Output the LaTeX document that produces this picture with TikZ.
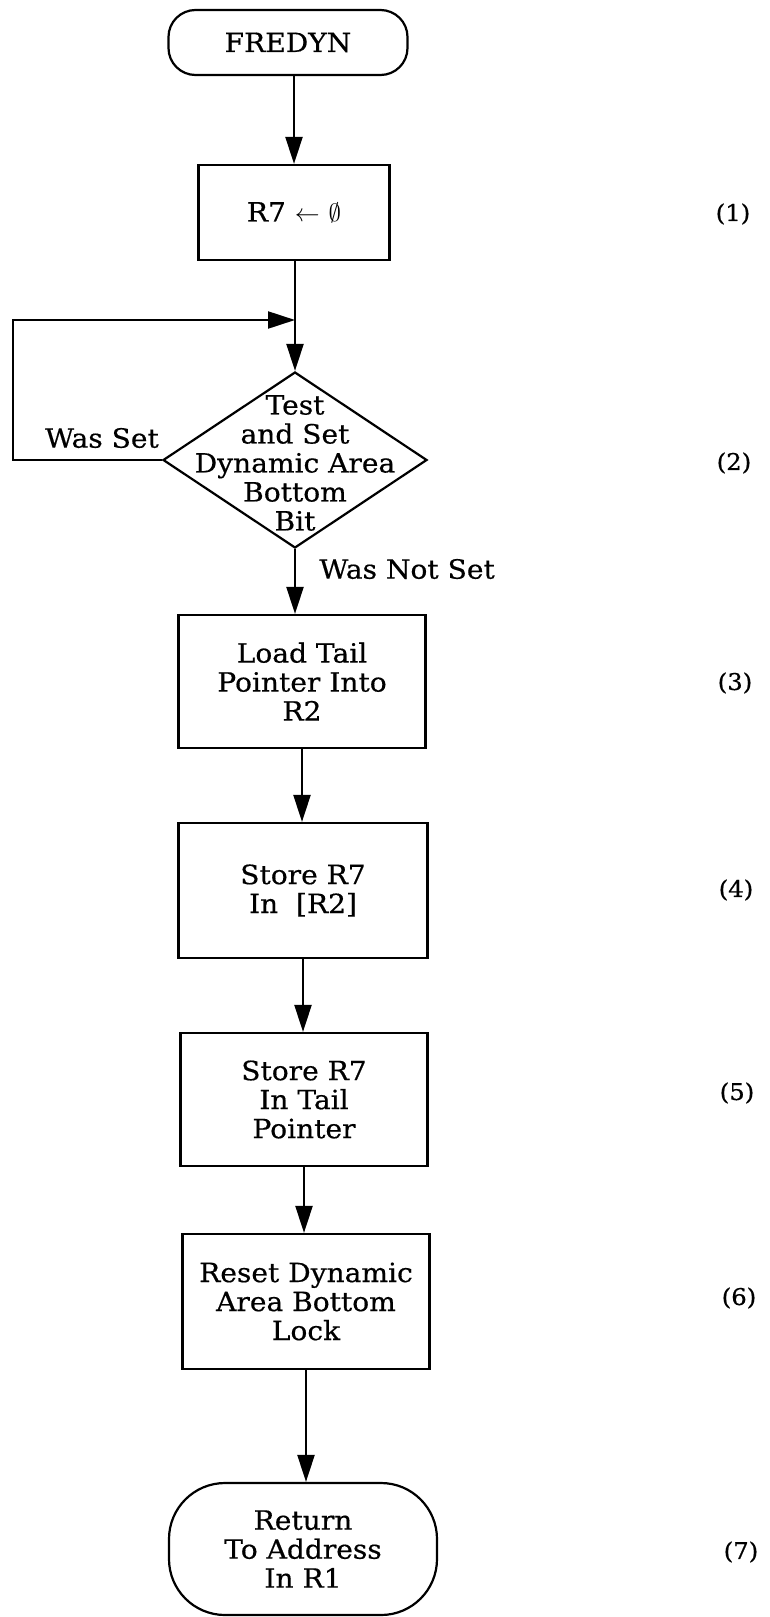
\documentclass[tikz,border=0pt]{standalone}
\usepackage{fontspec}
\setmainfont{DejaVu Serif}[FakeStretch=1.06, FakeBold=0.5]
\usetikzlibrary{arrows.meta,shapes.geometric}

\begin{document}
\begin{tikzpicture}[x=1pt,y=-1pt,
  line width=2.2pt,
  txt/.style={font=\fontsize{26.5}{29}\selectfont, align=center},
  stepno/.style={font=\fontsize{23}{26}\selectfont},
  procbox/.style={txt, draw, rectangle, inner sep=0pt},
  termbox/.style={txt, draw, rectangle, inner sep=0pt},
  flow/.style={-{Triangle[length=27pt,width=17pt]}},
]
\useasboundingbox (0,0) rectangle (770,1617);
\fill[white] (0,0) rectangle (770,1617);

% entry and first step
\node[termbox, rounded corners=27pt, minimum width=239pt, minimum height=65pt] (fredyn) at (288,42.5) {FREDYN};
\node[procbox, minimum width=191pt, minimum height=95pt] (r7) at (294,212.5) {R7 $\leftarrow$ $\emptyset$};

% test-and-set decision
\node[draw, diamond, inner sep=0pt, minimum width=264pt, minimum height=176pt] (test) at (295,460) {};
\node[txt] (testtext) at (295,463) {Test\\and Set\\Dynamic Area\\Bottom\\Bit};

% remaining steps
\node[procbox, minimum width=247pt, minimum height=133pt] (load) at (302,681.5) {Load Tail\\Pointer Into\\R2};
\node[procbox, minimum width=249pt, minimum height=135pt] (storea) at (303,890.5) {Store R7\\In~~[R2]};
\node[procbox, minimum width=247pt, minimum height=133pt] (storeb) at (304,1099.5) {Store R7\\In Tail\\Pointer};
\node[procbox, minimum width=247pt, minimum height=135pt] (reset) at (306,1301.5) {Reset Dynamic\\Area Bottom\\Lock};
\node[termbox, rounded corners=56pt, minimum width=268pt, minimum height=132pt] (ret) at (303,1549) {Return\\To Address\\In R1};

% branch labels
\node[txt] (wasset) at (102,438) {Was Set};
\node[txt, anchor=west] (wasnotset) at (315,569) {Was Not Set};

% step numbers
\node[stepno] (n1) at (733,214) {(1)};
\node[stepno] (n2) at (734,463) {(2)};
\node[stepno] (n3) at (735,683) {(3)};
\node[stepno] (n4) at (736,890) {(4)};
\node[stepno] (n5) at (737,1093) {(5)};
\node[stepno] (n6) at (739,1298) {(6)};
\node[stepno] (n7) at (741,1552) {(7)};

% connectors
\coordinate (loopcorner) at (13,320);
\draw[flow] (r7.north |- fredyn.south) -- (r7.north);
\draw[flow] (test.north |- r7.south) -- (test.north);
\draw[flow] (test.west) -- (test.west -| loopcorner) -- (loopcorner) -- (loopcorner -| test.north);
\draw[flow] (test.south) -- (test.south |- load.north);
\draw[flow] (load.south) -- (load.south |- storea.north);
\draw[flow] (storea.south) -- (storea.south |- storeb.north);
\draw[flow] (storeb.south) -- (storeb.south |- reset.north);
\draw[flow] (reset.south) -- (reset.south |- ret.north);
\end{tikzpicture}
\end{document}
